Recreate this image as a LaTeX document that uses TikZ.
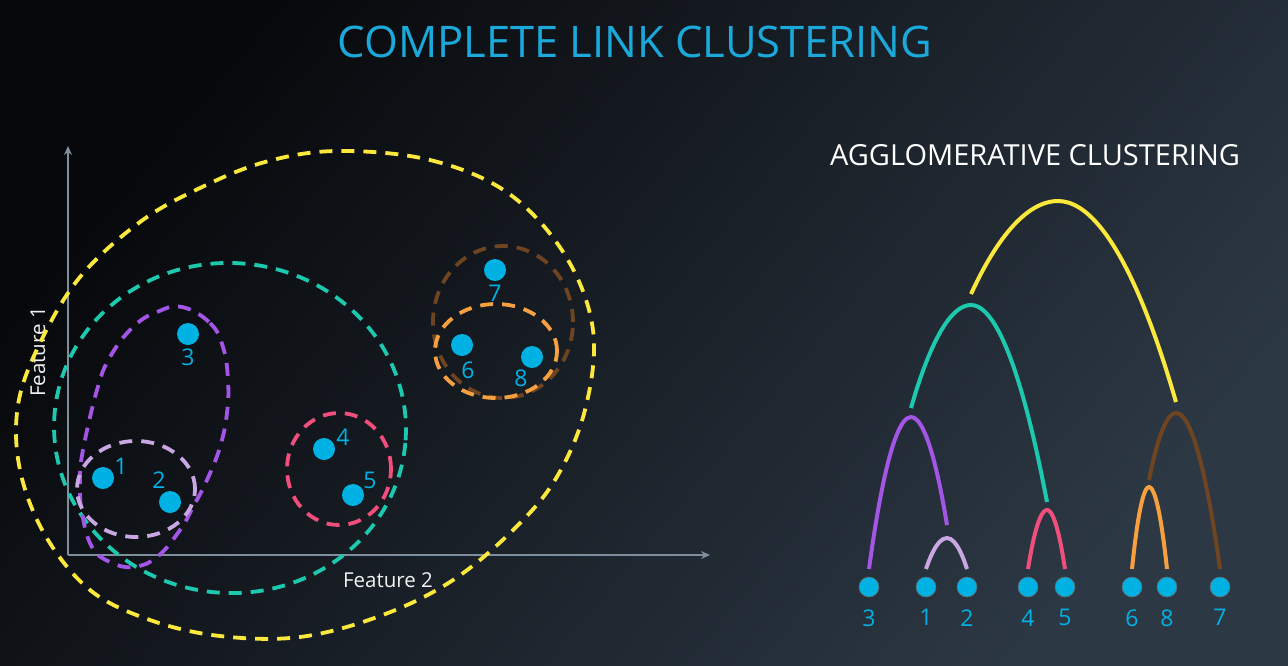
\documentclass[tikz,border=0pt]{standalone}
\usepackage{fontspec}
\setmainfont{Open Sans}
\usetikzlibrary{positioning,arrows.meta,calc}

\definecolor{bgA}{HTML}{07080B}
\definecolor{bgB}{HTML}{2C3844}
\definecolor{ptc}{HTML}{00B2E3}
\definecolor{ttlc}{HTML}{1AA9DA}
\definecolor{cyel}{HTML}{FAE83C}
\definecolor{cteal}{HTML}{1DC9AE}
\definecolor{cpur}{HTML}{A356E6}
\definecolor{clpur}{HTML}{C9A7E2}
\definecolor{cpink}{HTML}{F04E7C}
\definecolor{corg}{HTML}{F7A03F}
\definecolor{cbrn}{HTML}{6E4520}
\definecolor{axc}{HTML}{7F8E9C}

\begin{document}
\begin{tikzpicture}[
  x=1pt,y=-1pt,
  pt/.style={circle,fill=ptc,inner sep=0pt,minimum size=22pt},
  leaf/.style={circle,fill=ptc,draw=black!60,line width=0.6pt,inner sep=0pt,minimum size=20pt},
  lbl/.style={text=ptc,inner sep=0pt,font=\fontsize{23}{24}\selectfont},
  axlbl/.style={text=white!90!gray,inner sep=0pt,font=\fontsize{20.5}{22}\selectfont},
  hull/.style={dash pattern=on 13pt off 9pt,line width=3.8pt},
  arch/.style={line width=4pt},
  axis/.style={-{Stealth[length=9pt,width=8pt]},line width=1.8pt,axc},
]

% ===== background =====
\shade[top color=bgA,bottom color=bgB,shading angle=50] (0,0) rectangle (1288,665);
\useasboundingbox (0,0) rectangle (1288,665);

% ===== titles =====
\node[text=ttlc,font=\fontsize{43.5}{45}\selectfont] (ttl) at (635,42) {COMPLETE LINK CLUSTERING};
\node[text=white,font=\fontsize{29}{30}\selectfont] (dtl) at (1035,155) {AGGLOMERATIVE CLUSTERING};

% ===== left: scatter plot =====
\coordinate (o) at (68,555);
\coordinate (ytip) at (68,146);
\coordinate (xtip) at (710,555);
\draw[axis] (o) -- (ytip);
\draw[axis] (o) -- (xtip);
\node[axlbl,rotate=90] (f1) at (38,352) {Feature 1};
\node[axlbl] (f2) at (388,580) {Feature 2};

% cluster hulls, largest first
\draw[hull,cyel] plot[smooth cycle,tension=0.6] coordinates {
  (337,151) (430,160) (508,193) (565,255) (593,330) (585,410) (555,480)
  (510,533) (450,582) (380,616) (300,637) (220,636) (150,620) (90,590)
  (45,535) (20,470) (18,405) (40,343) (80,277) (140,222) (200,188) (265,162)};
\draw[hull,cteal,rotate around={-4:(230,428)}] (230,428) ellipse [x radius=176pt,y radius=165pt];
\draw[hull,cpur] plot[smooth cycle,tension=0.7] coordinates {
  (182,307) (210,323) (223,347) (228,380) (227,413) (220,447) (207,480)
  (193,507) (180,530) (157,557) (133,567) (110,562) (92,547) (82,513)
  (80,480) (83,450) (97,390) (110,357) (133,327) (157,312)};
\draw[hull,clpur] (136,489) ellipse [x radius=59pt,y radius=48pt];
\draw[hull,cpink] (339,469) ellipse [x radius=52pt,y radius=56pt];
\draw[hull,cbrn] (503,322) ellipse [x radius=70pt,y radius=76pt];
\draw[hull,corg] (496,351) ellipse [x radius=61pt,y radius=47pt];

% data points
\node[pt] (p1) at (103,478) {};
\node[pt] (p2) at (170,502) {};
\node[pt] (p3) at (188,334) {};
\node[pt] (p4) at (324,449) {};
\node[pt] (p5) at (353,495) {};
\node[pt] (p6) at (462,345) {};
\node[pt] (p7) at (495,270) {};
\node[pt] (p8) at (532,357) {};
\node[lbl] (n1) at ([xshift=18pt,yshift=12pt]p1) {1};
\node[lbl] (n2) at ([xshift=-11pt,yshift=22pt]p2) {2};
\node[lbl] (n3) at ([yshift=-23pt]p3) {3};
\node[lbl] (n4) at ([xshift=19pt,yshift=12pt]p4) {4};
\node[lbl] (n5) at ([xshift=17pt,yshift=15pt]p5) {5};
\node[lbl] (n6) at ([xshift=6pt,yshift=-25pt]p6) {6};
\node[lbl] (n7) at ([yshift=-23pt]p7) {7};
\node[lbl] (n8) at ([xshift=-11pt,yshift=-21pt]p8) {8};

% ===== right: dendrogram =====
\foreach \n/\x in {3/869,1/926,2/967,4/1028,5/1065,6/1132,8/1167,7/1220}{
  \node[leaf] (l\n) at (\x,587) {};
  \node[lbl,below=12pt of l\n] (t\n) {\n};
}
% merge heights
\coordinate (a12) at (947,538);
\coordinate (a123) at (911,417);
\coordinate (a45) at (1047,510);
\coordinate (a15) at (971,305);
\coordinate (a68) at (1149,487);
\coordinate (a678) at (1176,413);
\coordinate (aall) at (1058,201);

\draw[arch,clpur] ([yshift=18pt]l1.center) parabola bend (a12) ([yshift=18pt]l2.center);
\draw[arch,cpur] ([yshift=18pt]l3.center) parabola bend (a123) ([yshift=13pt]a12);
\draw[arch,cpink] ([yshift=18pt]l4.center) parabola bend (a45) ([yshift=18pt]l5.center);
\draw[arch,cteal] ([yshift=9pt]a123) parabola bend (a15) ([yshift=8pt]a45);
\draw[arch,corg] ([yshift=18pt]l6.center) parabola bend (a68) ([yshift=18pt]l8.center);
\draw[arch,cbrn] ([yshift=7pt]a68) parabola bend (a678) ([yshift=18pt]l7.center);
\draw[arch,cyel] ([yshift=11pt]a15) parabola bend (aall) ([yshift=11pt]a678);
\end{tikzpicture}
\end{document}
